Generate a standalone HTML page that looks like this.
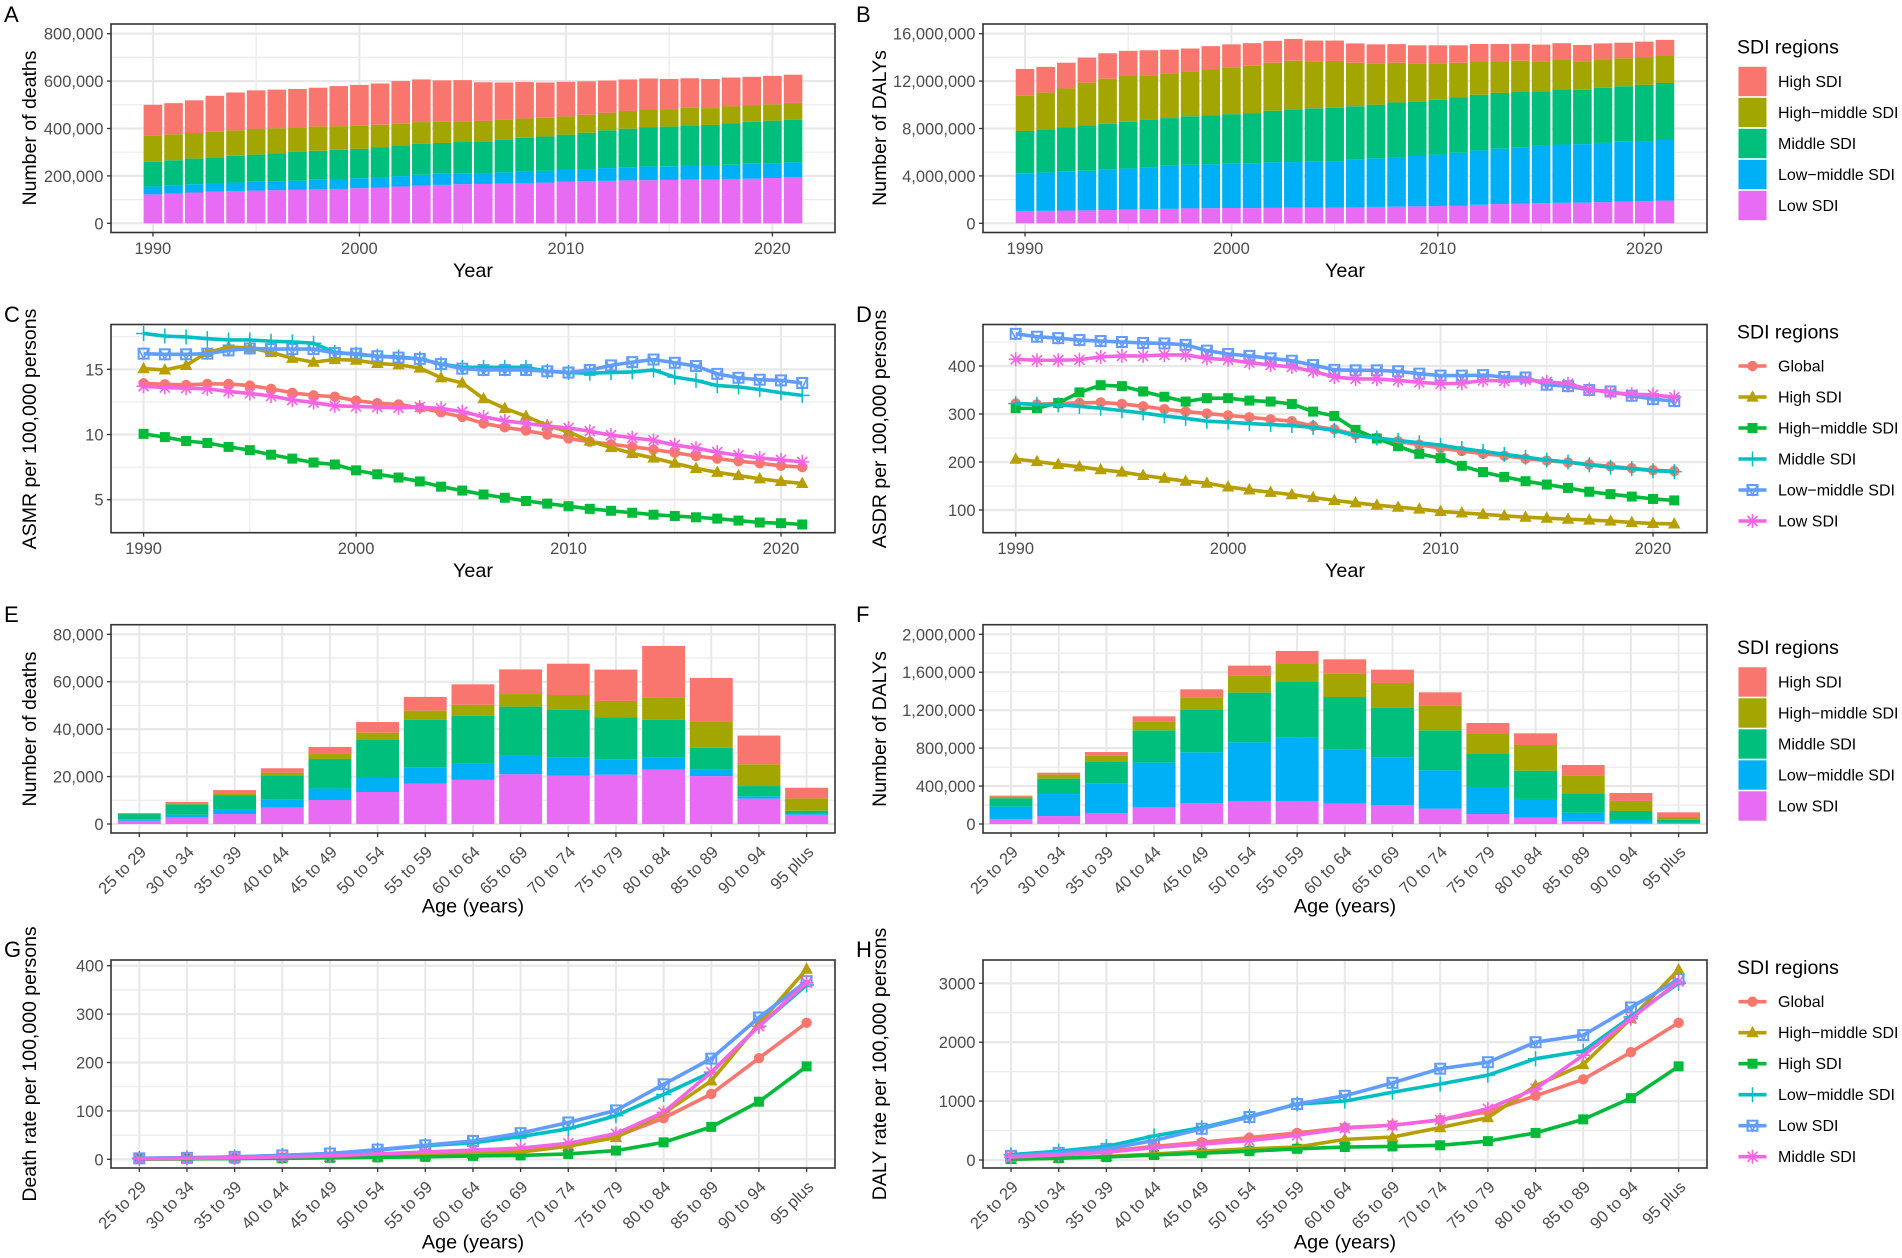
<!DOCTYPE html>
<html lang="en">
<head>
<meta charset="utf-8">
<title>SDI regions burden charts</title>
<style>
  html, body { margin: 0; padding: 0; background: #ffffff; }
  svg { display: block; font-family: "Liberation Sans", Arial, sans-serif; }
</style>
</head>
<body>
<svg id="figure" xmlns="http://www.w3.org/2000/svg" width="1902" height="1258" viewBox="0 0 1902 1258"></svg>
<script>
// ---------- categories and tick labels ----------
const years = [1990,1991,1992,1993,1994,1995,1996,1997,1998,1999,2000,2001,2002,2003,2004,2005,2006,2007,2008,2009,2010,2011,2012,2013,2014,2015,2016,2017,2018,2019,2020,2021];
const ageGroups = ["25 to 29","30 to 34","35 to 39","40 to 44","45 to 49","50 to 54","55 to 59","60 to 64","65 to 69","70 to 74","75 to 79","80 to 84","85 to 89","90 to 94","95 plus"];
const yearTicks = [1990,2000,2010,2020];
const yearMinorTicks = [1995,2005,2015];
const deathTicksA = [0,200000,400000,600000,800000];
const dalyTicksB = [0,4000000,8000000,12000000,16000000];
const asmrTicks = [5,10,15];
const asdrTicks = [100,200,300,400];
const deathTicksE = [0,20000,40000,60000,80000];
const dalyTicksF = [0,400000,800000,1200000,1600000,2000000];
const deathRateTicks = [0,100,200,300,400];
const dalyRateTicks = [0,1000,2000,3000];

// ---------- Panel A: number of deaths by year (thousands) ----------
const deathsYearLow = [122,125,130,133,136,138,140,141,143,145,148,151,155,159,162,165,166,168,170,172,175,177,179,181,182,183,184,185,187,188,191,194];
const deathsYearLowMiddle = [33,35,35,35,36,37,38,39,41,42,42,42,44,46,47,46,46,47,47,49,50,52,54,55,58,58,60,59,60,63,63,63];
const deathsYearMiddle = [105,106,108,111,113,115,118,121,122,123,124,127,129,131,130,132,134,138,144,145,149,153,159,163,166,167,170,171,174,177,179,180];
const deathsYearHighMiddle = [110,110,108,107,107,108,105,103,102,100,98,96,92,91,89,87,86,83,81,79,77,76,74,75,74,74,73,71,72,69,69,71];
const deathsYearHigh = [130,131,138,152,160,163,163,163,164,169,172,174,180,180,175,174,163,158,154,149,146,141,136,133,131,127,125,123,122,121,120,119];

// ---------- Panel B: number of DALYs by year (millions) ----------
const dalysYearLow = [1.04,1.05,1.08,1.09,1.12,1.15,1.18,1.22,1.26,1.27,1.29,1.28,1.30,1.32,1.32,1.33,1.34,1.38,1.40,1.43,1.45,1.50,1.56,1.62,1.67,1.70,1.73,1.74,1.78,1.83,1.87,1.92];
const dalysYearLowMiddle = [3.18,3.23,3.27,3.34,3.40,3.47,3.54,3.63,3.67,3.70,3.74,3.80,3.84,3.85,3.87,3.92,4.03,4.10,4.19,4.25,4.35,4.45,4.59,4.68,4.76,4.83,4.92,4.94,5.00,5.05,5.07,5.11];
const dalysYearMiddle = [3.57,3.65,3.73,3.82,3.88,3.94,4.00,4.03,4.10,4.13,4.18,4.22,4.36,4.45,4.51,4.50,4.51,4.52,4.61,4.62,4.62,4.67,4.70,4.70,4.65,4.62,4.65,4.58,4.65,4.69,4.74,4.81];
const dalysYearHighMiddle = [2.98,3.10,3.30,3.60,3.80,3.87,3.78,3.77,3.74,3.88,3.96,4.00,4.05,4.10,3.98,3.95,3.67,3.50,3.35,3.15,3.08,2.93,2.80,2.65,2.64,2.53,2.48,2.42,2.40,2.36,2.31,2.28];
const dalysYearHigh = [2.25,2.17,2.17,2.13,2.15,2.12,2.10,2.00,1.98,1.97,1.93,1.90,1.85,1.83,1.74,1.72,1.63,1.60,1.57,1.57,1.52,1.47,1.48,1.48,1.43,1.40,1.42,1.37,1.35,1.31,1.34,1.36];

// ---------- Panel C: ASMR ----------
const asmrGlobal = [13.93,13.85,13.8,13.88,13.88,13.75,13.5,13.2,13.0,12.9,12.6,12.4,12.3,12.05,11.7,11.35,10.85,10.55,10.3,10.0,9.7,9.45,9.25,9.05,8.85,8.6,8.35,8.15,7.95,7.8,7.6,7.5];
const asmrHigh = [15.05,14.95,15.3,16.3,16.7,16.65,16.3,15.85,15.55,15.75,15.7,15.45,15.35,15.1,14.35,13.95,12.75,12.0,11.4,10.7,10.2,9.5,9.0,8.55,8.2,7.8,7.4,7.1,6.85,6.6,6.4,6.25];
const asmrHighMiddle = [10.05,9.8,9.5,9.35,9.05,8.8,8.45,8.15,7.85,7.7,7.25,6.95,6.7,6.4,6.0,5.7,5.4,5.15,4.9,4.7,4.5,4.3,4.15,4.0,3.85,3.75,3.65,3.55,3.4,3.25,3.2,3.1];
const asmrMiddle = [17.75,17.55,17.48,17.35,17.25,17.25,17.15,17.1,17.0,16.3,16.15,16.0,15.95,15.8,15.4,15.15,15.15,15.15,15.15,14.85,14.75,14.7,14.75,14.8,14.95,14.4,14.15,13.75,13.65,13.45,13.2,13.0];
const asmrLowMiddle = [16.2,16.15,16.15,16.2,16.45,16.6,16.55,16.55,16.55,16.25,16.2,16.0,15.9,15.8,15.4,15.05,14.95,14.95,14.95,14.85,14.75,14.95,15.3,15.55,15.75,15.5,15.25,14.65,14.35,14.2,14.15,13.95];
const asmrLow = [13.7,13.6,13.55,13.5,13.3,13.15,12.95,12.65,12.45,12.2,12.15,12.1,12.05,12.1,12.0,11.75,11.35,11.05,10.85,10.65,10.5,10.25,9.95,9.75,9.55,9.2,8.95,8.65,8.4,8.2,8.05,7.9];

// ---------- Panel D: ASDR ----------
const asdrGlobal = [322,320,322,323,324,321,316,310,305,301,297,293,289,285,275,268,257,250,243,236,229,223,217,213,207,203,199,195,191,187,183,181];
const asdrHigh = [206,201,195,190,184,179,172,166,160,156,148,142,137,132,126,120,115,110,106,102,97,94,91,88,85,83,81,79,77,74,72,71];
const asdrHighMiddle = [312,312,323,345,360,358,347,336,326,333,333,328,326,321,305,296,267,249,233,217,208,192,179,169,160,153,146,138,133,128,123,120];
const asdrMiddle = [322,320,319,316,312,307,302,296,291,285,283,280,278,276,272,266,255,250,245,240,235,228,222,216,210,204,200,194,189,186,182,180];
const asdrLowMiddle = [467,461,458,454,452,450,448,447,444,432,425,421,416,411,402,392,391,391,389,384,380,380,381,377,376,361,358,350,347,338,331,327];
const asdrLow = [414,412,412,413,419,421,421,423,423,416,413,407,402,398,389,377,373,373,370,366,363,364,370,369,371,367,363,351,345,341,340,335];

// ---------- Panel E: number of deaths by age ----------
const deathsAgeLow = [1400,2800,4200,7000,10100,13500,17000,18600,21000,20400,20800,23000,20200,10700,3900];
const deathsAgeLowMiddle = [600,1100,2100,3400,4900,5900,6900,7100,7700,7700,6300,5100,2700,1000,500];
const deathsAgeMiddle = [2200,4400,5900,10000,12400,16300,20000,19900,20800,20000,17800,15800,9200,4300,1200];
const deathsAgeHighMiddle = [150,400,700,1250,2100,2800,3900,4700,5300,6300,7000,9500,11100,9200,5200];
const deathsAgeHigh = [290,600,1400,1850,3000,4500,5800,8600,10400,13200,13200,21700,18400,12100,4500];

// ---------- Panel F: number of DALYs by age (thousands) ----------
const dalysAgeLow = [53,84,116,179,218,239,239,214,197,162,105,67,28,11,7];
const dalysAgeLowMiddle = [130,232,309,468,538,622,671,570,506,404,285,197,92,31,7];
const dalysAgeMiddle = [88,162,236,341,446,524,587,555,524,422,348,298,203,95,32];
const dalysAgeHighMiddle = [17,42,63,88,134,176,190,246,260,263,211,271,187,106,28];
const dalysAgeHigh = [11,21,35,59,84,109,137,151,140,137,116,123,112,84,49];

// ---------- Panel G: death rate by age ----------
const deathRateGlobal = [1,2,3,4,5,7,10,14,18,28,47,85,135,209,282];
const deathRateHighMiddle = [0.5,1,2,3,4,5,7,10,15,27,45,95,162,280,393];
const deathRateHigh = [0.5,1,1.5,2,3,4,5,7,8,11,18,35,67,119,192];
const deathRateLowMiddle = [2,3,5,8,12,19,28,34,47,63,90,134,180,275,360];
const deathRateLow = [2,3,5,8,12,20,29,38,54,76,101,155,208,293,368];
const deathRateMiddle = [1,2,3,5,7,11,15,19,23,33,53,97,180,275,365];

// ---------- Panel H: DALY rate by age ----------
const dalyRateGlobal = [50,90,150,230,300,380,460,550,590,680,820,1090,1370,1830,2330];
const dalyRateHighMiddle = [15,30,60,100,150,190,220,350,390,550,720,1260,1620,2400,3230];
const dalyRateHigh = [15,30,50,85,115,150,190,220,230,250,320,460,690,1050,1590];
const dalyRateLowMiddle = [90,150,230,410,550,740,950,1000,1150,1290,1440,1720,1850,2430,3000];
const dalyRateLow = [70,120,190,330,530,730,950,1090,1310,1550,1660,2000,2120,2590,3070];
const dalyRateMiddle = [50,85,130,210,270,330,420,540,590,680,870,1210,1780,2400,3030];

// ---------- drawing ----------
const NS = 'http://www.w3.org/2000/svg';
const root = document.getElementById('figure');
const fmt = v => v.toString().replace(/\B(?=(\d{3})+(?!\d))/g, ',');
const slug = s => s.toLowerCase().replace(/[^a-z0-9]+/g, '-');
const TICK = '#4d4d4d';

function shape(parent, tag, attrs) {
  const n = document.createElementNS(NS, tag);
  for (const k in attrs) n.setAttribute(k, attrs[k]);
  parent.appendChild(n);
  return n;
}
function label(parent, str, attrs) {
  const n = shape(parent, 'text', attrs);
  n.textContent = str;
  return n;
}
function linearScale(d0, d1, p0, p1) {
  return v => p0 + (v - d0) / (d1 - d0) * (p1 - p0);
}

// point glyphs per series shape
function drawGlyph(parent, kind, color, x, y) {
  const g = shape(parent, 'g', { transform: 'translate(' + x + ',' + y + ')', fill: 'none', stroke: color });
  if (kind === 'circle') {
    shape(g, 'circle', { r: 5.2, fill: color, stroke: 'none' });
  } else if (kind === 'triangle') {
    shape(g, 'polygon', { points: '0,-6.8 6.2,4.6 -6.2,4.6', fill: color, stroke: 'none' });
  } else if (kind === 'square') {
    shape(g, 'rect', { x: -5, y: -5, width: 10, height: 10, fill: color, stroke: 'none' });
  } else if (kind === 'plus') {
    shape(g, 'path', { d: 'M0,-7.5V7.5M-7.5,0H7.5', 'stroke-width': 1.5 });
  } else if (kind === 'boxed') {
    shape(g, 'rect', { x: -5, y: -5, width: 10, height: 10, 'stroke-width': 2 });
    shape(g, 'path', { d: 'M-5,-5L0,5L5,-5', 'stroke-width': 1.6 });
  } else if (kind === 'star') {
    shape(g, 'path', { d: 'M0,-7V7M-7,0H7M-5,-5L5,5M-5,5L5,-5', 'stroke-width': 1.6 });
  }
  return g;
}

function drawFrame(p) {
  const group = shape(root, 'g', {});
  
  
  p.group = group;
  p.sx = p.categorical ? linearScale(0, 14, p.xPix[0], p.xPix[1]) : linearScale(1990, 2020, p.xPix[0], p.xPix[1]);
  p.sy = linearScale(p.yAnchor[0], p.yAnchor[1], p.yPix[0], p.yPix[1]);

  const tag = label(group, p.tag, { x: p.tagX, y: p.tagY, 'font-size': 22, fill: '#000' });
  
  

  const grid = shape(group, 'g', {});
  
  

  // minor horizontal grid
  const step = p.yTicks[1] - p.yTicks[0];
  for (let v = p.yTicks[0] - step / 2; v <= p.yTicks[p.yTicks.length - 1] + step / 2; v += step) {
    const y = p.sy(v);
    if (y > p.top && y < p.bottom) shape(grid, 'line', { x1: p.left, x2: p.right, y1: y, y2: y, stroke: '#ebebeb', 'stroke-width': 1.2 });
  }
  // vertical grid
  if (p.categorical) {
    ageGroups.forEach((a, i) => {
      shape(grid, 'line', { x1: p.sx(i), x2: p.sx(i), y1: p.top, y2: p.bottom, stroke: '#e8e8e8', 'stroke-width': 2 });
    });
  } else {
    yearMinorTicks.forEach(v => {
      shape(grid, 'line', { x1: p.sx(v), x2: p.sx(v), y1: p.top, y2: p.bottom, stroke: '#ebebeb', 'stroke-width': 1.2 });
    });
    yearTicks.forEach(v => {
      shape(grid, 'line', { x1: p.sx(v), x2: p.sx(v), y1: p.top, y2: p.bottom, stroke: '#e8e8e8', 'stroke-width': 2 });
    });
  }
  // major horizontal grid
  p.yTicks.forEach(v => {
    shape(grid, 'line', { x1: p.left, x2: p.right, y1: p.sy(v), y2: p.sy(v), stroke: '#e8e8e8', 'stroke-width': 2.2 });
  });
}

function drawAxes(p) {
  const group = p.group;
  shape(group, 'rect', { x: p.left, y: p.top, width: p.right - p.left, height: p.bottom - p.top, fill: 'none', stroke: '#333333', 'stroke-width': 1.6 });

  const yAxis = shape(group, 'g', {});
  
  
  p.yTicks.forEach(v => {
    const y = p.sy(v);
    shape(yAxis, 'line', { x1: p.left - 4, x2: p.left, y1: y, y2: y, stroke: '#333333', 'stroke-width': 1.3 });
    const t = label(yAxis, p.plainTicks ? String(v) : fmt(v), { x: p.left - 7.5, y: y + 6, 'text-anchor': 'end', 'font-size': 16.5, fill: TICK });
    
    
  });

  const xAxis = shape(group, 'g', {});
  
  
  if (p.categorical) {
    ageGroups.forEach((a, i) => {
      const x = p.sx(i);
      shape(xAxis, 'line', { x1: x, x2: x, y1: p.bottom, y2: p.bottom + 4, stroke: '#333333', 'stroke-width': 1.3 });
      const ax = x + 8, ay = p.bottom + 20;
      const t = label(xAxis, a, { x: ax, y: ay, 'text-anchor': 'end', 'font-size': 16.5, fill: TICK, transform: 'rotate(-45 ' + ax + ' ' + ay + ')' });
      
      
    });
  } else {
    yearTicks.forEach(v => {
      const x = p.sx(v);
      shape(xAxis, 'line', { x1: x, x2: x, y1: p.bottom, y2: p.bottom + 4, stroke: '#333333', 'stroke-width': 1.3 });
      const t = label(xAxis, String(v), { x: x, y: p.bottom + 21.5, 'text-anchor': 'middle', 'font-size': 16.5, fill: TICK });
      
      
    });
  }

  const xt = label(group, p.xTitle, { x: (p.left + p.right) / 2, y: p.xTitleY, 'text-anchor': 'middle', 'font-size': 19.8, fill: '#000' });
  
  
  const yt = label(group, p.yTitle, { x: p.yTitleX, y: p.yTitleY, 'text-anchor': 'middle', 'font-size': 19.5, fill: '#000', transform: 'rotate(-90 ' + p.yTitleX + ' ' + p.yTitleY + ')' });
  
  
}

function drawBars(p, layers) {
  drawFrame(p);
  const cats = p.categorical ? ageGroups : years;
  const unit = p.unit;
  const slot = p.categorical ? Math.abs(p.sx(1) - p.sx(0)) : Math.abs(p.sx(1991) - p.sx(1990));
  const w = slot * 0.9;
  const base = cats.map(() => 0);
  layers.forEach(layer => {
    const g = shape(p.group, 'g', { fill: layer.color });
    
    
    layer.values.forEach((v, i) => {
      const cx = p.categorical ? p.sx(i) : p.sx(cats[i]);
      const y0 = p.sy(base[i]);
      const y1 = p.sy(base[i] + v * unit);
      const bar = shape(g, 'rect', { x: cx - w / 2, y: y1, width: w, height: Math.max(0, y0 - y1) });
      
      
      base[i] += v * unit;
    });
  });
  drawAxes(p);
}

function drawLines(p, series) {
  drawFrame(p);
  const cats = p.categorical ? ageGroups : years;
  const xOf = i => p.categorical ? p.sx(i) : p.sx(cats[i]);
  series.forEach(s => {
    const g = shape(p.group, 'g', {});
    
    
    s.values.forEach((v, i) => {
      const pt = drawGlyph(g, s.kind, s.color, xOf(i), p.sy(v));
      
      
    });
  });
  series.forEach(s => {
    const d = s.values.map((v, i) => (i ? 'L' : 'M') + xOf(i).toFixed(2) + ',' + p.sy(v).toFixed(2)).join('');
    const path = shape(p.group, 'path', { d: d, fill: 'none', stroke: s.color, 'stroke-width': 3.6, 'stroke-linejoin': 'round' });
    
    
  });
  drawAxes(p);
}

const LEG_X = 1737, KEY_X = 1738.5, KEY_W = 28, TXT_X = 1778;

function legendTitle(g, y) {
  const t = label(g, 'SDI regions', { x: LEG_X, y: y + 6.5, 'font-size': 19.5, fill: '#000' });
  
  
}
function barLegend(panelTag, titleY, firstY, layers) {
  const g = shape(root, 'g', {});
  
  
  legendTitle(g, titleY);
  layers.forEach((l, i) => {
    const e = shape(g, 'g', {});
    
    
    const cy = firstY + i * 31;
    shape(e, 'rect', { x: KEY_X, y: cy - 14.7, width: KEY_W, height: 29.4, fill: l.color });
    label(e, l.name, { x: TXT_X, y: cy + 5.5, 'font-size': 16, fill: '#000' });
  });
}
function lineLegend(panelTag, titleY, firstY, series) {
  const g = shape(root, 'g', {});
  
  
  legendTitle(g, titleY);
  series.forEach((s, i) => {
    const e = shape(g, 'g', {});
    
    
    const cy = firstY + i * 31;
    drawGlyph(e, s.kind, s.color, KEY_X + KEY_W / 2, cy);
    shape(e, 'line', { x1: KEY_X, x2: KEY_X + KEY_W, y1: cy, y2: cy, stroke: s.color, 'stroke-width': 3.6 });
    label(e, s.name, { x: TXT_X, y: cy + 5.5, 'font-size': 16, fill: '#000' });
  });
}

const C = { red: '#F8766D', olive: '#A3A500', teal: '#00BF7D', sky: '#00B0F6', pink: '#E76BF3' };
const L = { global: '#F8766D', high: '#B79F00', hm: '#00BA38', mid: '#00BFC4', lm: '#619CFF', low: '#F564E3' };
const MINUS = '\u2212';
const NAME_HM = 'High' + MINUS + 'middle SDI', NAME_LM = 'Low' + MINUS + 'middle SDI';

// stacking order is bottom to top
function stackLayers(low, lm, mid, hm, high) {
  return [
    { name: 'Low SDI', color: C.pink, values: low },
    { name: NAME_LM, color: C.sky, values: lm },
    { name: 'Middle SDI', color: C.teal, values: mid },
    { name: NAME_HM, color: C.olive, values: hm },
    { name: 'High SDI', color: C.red, values: high }
  ];
}

const leftBox = { left: 111, right: 835, tagX: 4, yTitleX: 36 };
const rightBox = { left: 983, right: 1707, tagX: 856, yTitleX: 886 };

drawBars(Object.assign({}, leftBox, {
  tag: 'A', tagY: 22, top: 24, bottom: 232.5, xPix: [152.9, 772.4], yAnchor: [0, 800000], yPix: [223.3, 33.7],
  yTicks: deathTicksA, unit: 1000, xTitle: 'Year', xTitleY: 277, yTitle: 'Number of deaths', yTitleY: 128
}), stackLayers(deathsYearLow, deathsYearLowMiddle, deathsYearMiddle, deathsYearHighMiddle, deathsYearHigh));

const panelBLayers = stackLayers(dalysYearLow, dalysYearLowMiddle, dalysYearMiddle, dalysYearHighMiddle, dalysYearHigh);
drawBars(Object.assign({}, rightBox, {
  tag: 'B', tagY: 22, top: 24, bottom: 232.5, xPix: [1025, 1644.3], yAnchor: [0, 16000000], yPix: [223.3, 33.7],
  yTicks: dalyTicksB, unit: 1000000, xTitle: 'Year', xTitleY: 277, yTitle: 'Number of DALYs', yTitleY: 128
}), panelBLayers);
barLegend('b', 47, 81.5, panelBLayers.slice().reverse());

const panelCSeries = [
  { name: 'Global', color: L.global, kind: 'circle', values: asmrGlobal },
  { name: 'High SDI', color: L.high, kind: 'triangle', values: asmrHigh },
  { name: NAME_HM, color: L.hm, kind: 'square', values: asmrHighMiddle },
  { name: 'Middle SDI', color: L.mid, kind: 'plus', values: asmrMiddle },
  { name: NAME_LM, color: L.lm, kind: 'boxed', values: asmrLowMiddle },
  { name: 'Low SDI', color: L.low, kind: 'star', values: asmrLow }
];
drawLines(Object.assign({}, leftBox, {
  tag: 'C', tagY: 322, top: 324.5, bottom: 532.7, xPix: [143.6, 781], yAnchor: [5, 15], yPix: [499.7, 369.3],
  yTicks: asmrTicks, xTitle: 'Year', xTitleY: 577, yTitle: 'ASMR per 100,000 persons', yTitleY: 429
}), panelCSeries);

const panelDSeries = [
  { name: 'Global', color: L.global, kind: 'circle', values: asdrGlobal },
  { name: 'High SDI', color: L.high, kind: 'triangle', values: asdrHigh },
  { name: NAME_HM, color: L.hm, kind: 'square', values: asdrHighMiddle },
  { name: 'Middle SDI', color: L.mid, kind: 'plus', values: asdrMiddle },
  { name: NAME_LM, color: L.lm, kind: 'boxed', values: asdrLowMiddle },
  { name: 'Low SDI', color: L.low, kind: 'star', values: asdrLow }
];
drawLines(Object.assign({}, rightBox, {
  tag: 'D', tagY: 322, top: 324.5, bottom: 532.7, xPix: [1015.7, 1653], yAnchor: [100, 400], yPix: [510, 366],
  yTicks: asdrTicks, xTitle: 'Year', xTitleY: 577, yTitle: 'ASDR per 100,000 persons', yTitleY: 429
}), panelDSeries);
lineLegend('d', 332, 366, panelDSeries);

drawBars(Object.assign({}, leftBox, {
  tag: 'E', tagY: 622, top: 624.7, bottom: 833, categorical: true, xPix: [139.3, 806.6], yAnchor: [0, 80000], yPix: [824, 634.3],
  yTicks: deathTicksE, unit: 1, xTitle: 'Age (years)', xTitleY: 912.5, yTitle: 'Number of deaths', yTitleY: 729
}), stackLayers(deathsAgeLow, deathsAgeLowMiddle, deathsAgeMiddle, deathsAgeHighMiddle, deathsAgeHigh));

const panelFLayers = stackLayers(dalysAgeLow, dalysAgeLowMiddle, dalysAgeMiddle, dalysAgeHighMiddle, dalysAgeHigh);
drawBars(Object.assign({}, rightBox, {
  tag: 'F', tagY: 622, top: 624.7, bottom: 833, categorical: true, xPix: [1011, 1678.6], yAnchor: [0, 2000000], yPix: [824, 634.3],
  yTicks: dalyTicksF, unit: 1000, xTitle: 'Age (years)', xTitleY: 912.5, yTitle: 'Number of DALYs', yTitleY: 729
}), panelFLayers);
barLegend('f', 647.7, 682, panelFLayers.slice().reverse());

const panelGSeries = [
  { name: 'Global', color: L.global, kind: 'circle', values: deathRateGlobal },
  { name: NAME_HM, color: L.high, kind: 'triangle', values: deathRateHighMiddle },
  { name: 'High SDI', color: L.hm, kind: 'square', values: deathRateHigh },
  { name: NAME_LM, color: L.mid, kind: 'plus', values: deathRateLowMiddle },
  { name: 'Low SDI', color: L.lm, kind: 'boxed', values: deathRateLow },
  { name: 'Middle SDI', color: L.low, kind: 'star', values: deathRateMiddle }
];
drawLines(Object.assign({}, leftBox, {
  tag: 'G', tagY: 957, top: 960, bottom: 1168, categorical: true, xPix: [139.3, 806.6], yAnchor: [0, 400], yPix: [1159.3, 965.7],
  yTicks: deathRateTicks, xTitle: 'Age (years)', xTitleY: 1248.5, yTitle: 'Death rate per 100,000 persons', yTitleY: 1064
}), panelGSeries);

const panelHSeries = [
  { name: 'Global', color: L.global, kind: 'circle', values: dalyRateGlobal },
  { name: NAME_HM, color: L.high, kind: 'triangle', values: dalyRateHighMiddle },
  { name: 'High SDI', color: L.hm, kind: 'square', values: dalyRateHigh },
  { name: NAME_LM, color: L.mid, kind: 'plus', values: dalyRateLowMiddle },
  { name: 'Low SDI', color: L.lm, kind: 'boxed', values: dalyRateLow },
  { name: 'Middle SDI', color: L.low, kind: 'star', values: dalyRateMiddle }
];
drawLines(Object.assign({}, rightBox, {
  tag: 'H', tagY: 957, top: 960, bottom: 1168, categorical: true, plainTicks: true, xPix: [1011, 1678.6], yAnchor: [0, 3000], yPix: [1160, 983.3],
  yTicks: dalyRateTicks, xTitle: 'Age (years)', xTitleY: 1248.5, yTitle: 'DALY rate per 100,000 persons', yTitleY: 1064
}), panelHSeries);
lineLegend('h', 967.3, 1001.7, panelHSeries);
</script>
</body>
</html>
